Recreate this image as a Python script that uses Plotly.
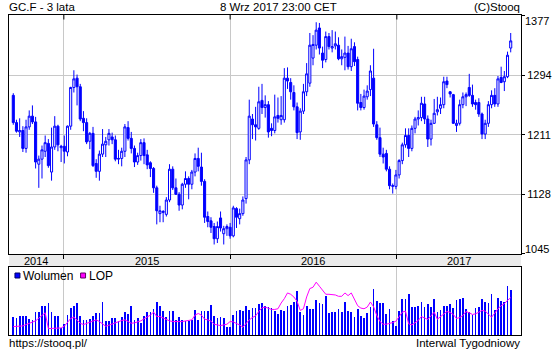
import plotly.graph_objects as go
import pandas as pd

# ---------------- data ----------------
weeks = pd.date_range("2014-09-12", periods=157, freq="7D")

open_ = [1266,1228,1215,1217,1192,1222,1237,1229,1170,1177,1188,1199,1159,1194,1223,1193,1195,1187,1223,1277,
         1290,1278,1234,1228,1202,1213,1171,1160,1184,1197,1204,1208,1204,1177,1178,1188,1221,1206,1192,1173,
         1182,1200,1183,1172,1164,1137,1101,1104,1100,1120,1163,1137,1128,1113,1142,1150,1142,1159,1178,1166,
         1146,1097,1091,1083,1066,1095,1073,1080,1082,1070,1108,1094,1101,1122,1176,1233,1225,1220,1259,1249,
         1253,1220,1217,1238,1232,1232,1290,1284,1270,1250,1215,1244,1271,1283,1318,1336,1360,1325,1316,1348,
         1332,1335,1336,1317,1319,1325,1306,1334,1316,1256,1249,1264,1274,1290,1225,1207,1184,1185,1163,1139,
         1139,1155,1175,1197,1210,1192,1220,1233,1235,1254,1233,1205,1227,1243,1248,1253,1286,1271,1267,1224,
         1227,1253,1264,1277,1266,1256,1256,1240,1212,1227,1253,1266,1254,1291,1285,1292,1332]
high = [1269,1232,1234,1223,1232,1245,1252,1236,1182,1196,1210,1205,1221,1237,1225,1197,1210,1224,1278,1301,
        1295,1282,1244,1234,1215,1222,1177,1189,1219,1208,1219,1214,1210,1190,1193,1226,1230,1215,1196,1186,
        1205,1206,1190,1174,1166,1140,1112,1106,1124,1170,1167,1150,1131,1144,1160,1153,1162,1185,1193,1186,
        1149,1104,1096,1088,1090,1104,1084,1086,1088,1112,1110,1108,1125,1180,1260,1240,1250,1278,1282,1266,
        1258,1227,1267,1263,1265,1304,1305,1290,1280,1256,1248,1282,1311,1353,1350,1368,1367,1334,1355,1353,
        1357,1355,1347,1330,1348,1335,1345,1340,1320,1268,1274,1280,1308,1331,1230,1221,1193,1190,1167,1143,
        1162,1177,1200,1220,1220,1224,1236,1245,1264,1264,1238,1232,1261,1264,1263,1292,1292,1272,1268,1232,
        1260,1270,1270,1296,1281,1260,1262,1242,1232,1258,1273,1276,1293,1306,1300,1327,1353]
low = [1225,1214,1208,1187,1186,1218,1226,1164,1137,1150,1180,1165,1147,1190,1188,1173,1171,1181,1218,1270,
       1252,1230,1216,1198,1191,1166,1151,1147,1180,1180,1196,1198,1174,1170,1167,1180,1203,1185,1166,1169,
       1175,1170,1163,1152,1130,1086,1089,1089,1097,1117,1134,1127,1105,1107,1137,1121,1135,1153,1160,1140,
       1088,1082,1074,1058,1060,1076,1058,1070,1066,1068,1081,1086,1098,1115,1170,1205,1203,1218,1240,1235,
       1207,1209,1213,1228,1225,1228,1275,1260,1245,1205,1204,1240,1265,1278,1308,1330,1323,1304,1312,1330,
       1326,1330,1315,1308,1301,1302,1300,1307,1245,1245,1246,1260,1265,1222,1204,1180,1171,1160,1135,1129,
       1135,1150,1170,1193,1180,1188,1213,1224,1230,1226,1194,1196,1226,1238,1240,1248,1276,1263,1226,1215,
       1224,1248,1251,1264,1250,1246,1236,1205,1205,1222,1248,1250,1250,1283,1272,1290,1326]
close = [1228,1216,1217,1192,1222,1237,1229,1173,1177,1190,1200,1168,1194,1223,1197,1195,1188,1223,1277,1289,
         1278,1233,1228,1201,1213,1168,1160,1184,1198,1202,1213,1204,1177,1178,1188,1222,1206,1192,1173,1182,
         1200,1182,1169,1164,1137,1105,1105,1103,1120,1163,1137,1128,1113,1142,1150,1142,1159,1178,1167,1146,
         1096,1090,1082,1066,1083,1081,1080,1083,1070,1109,1096,1101,1120,1176,1237,1225,1222,1257,1249,1253,
         1215,1217,1236,1234,1238,1290,1286,1271,1250,1214,1244,1271,1296,1336,1337,1357,1332,1315,1348,1334,
         1334,1338,1317,1320,1325,1306,1331,1313,1255,1249,1265,1272,1300,1226,1207,1184,1180,1163,1140,1140,
         1155,1175,1197,1210,1192,1220,1233,1235,1255,1233,1205,1227,1241,1246,1253,1285,1281,1268,1227,1227,
         1253,1264,1267,1266,1254,1253,1240,1212,1227,1253,1266,1254,1289,1284,1292,1322,1342]

volume = [275,260,285,285,285,245,225,340,340,435,435,475,350,285,290,105,170,305,410,430,
          485,290,225,225,235,290,325,335,500,215,215,255,255,215,270,350,315,435,225,250,
          190,280,340,340,395,490,440,365,270,365,365,230,270,230,210,215,230,375,230,360,
          360,365,445,285,250,265,250,130,130,305,365,380,355,440,370,400,405,460,485,435,
          425,410,365,315,
          380,360,435,450,490,665,340,305,440,390,390,530,485,465,590,325,340,340,395,350,
          490,355,340,265,390,290,255,325,425,690,515,475,475,310,385,215,140,365,545,545,
          615,425,415,435,500,425,465,425,535,340,375,440,440,460,405,525,535,555,390,350,
          305,405,415,545,500,475,615,375,560,515,500,740,680]

lop = [300,300,300,304,312,320,326,334,350,366,382,288,288,288,290,292,302,326,348,356,
       336,320,312,318,324,330,340,330,314,302,308,316,322,330,336,340,328,320,322,326,
       334,346,356,368,386,360,360,350,342,334,330,332,330,330,332,334,340,368,378,368,
       344,340,332,314,308,306,310,314,330,328,318,310,296,318,340,354,364,390,412,416,
       410,402,402,406,
       440,466,500,492,476,450,396,406,476,526,534,564,540,516,492,492,492,488,480,480,
       500,484,500,462,424,410,406,416,446,418,366,330,314,314,318,324,332,356,386,392,
       316,310,322,336,360,350,342,364,386,344,358,376,390,384,372,348,354,366,390,382,
       372,376,386,396,392,376,356,380,406,424,436,456,472]

price_ticks = [1045, 1128, 1211, 1294, 1377]
years = ["2014", "2015", "2016", "2017"]
year_starts = ["2015-01-01", "2016-01-01", "2017-01-01"]
year_mids = ["2014-11-01", "2015-07-02", "2016-07-02", "2017-05-17"]

# ---------------- layout geometry ----------------
W, H = 560, 350
L, R, T, B = 8, 523, 15, 335
PH = B - T
PW = R - L

def py(ypx):
    return (B - ypx) / PH

def px(xpx):
    return (xpx - L) / PW

x_range = ["2014-09-02 14:00", "2017-09-30 14:00"]
BLUE = "#0000ff"
MAG = "#ff00ff"
GRID = "#c8c8c8"
FONT = "Liberation Sans, Arial, sans-serif"

fig = go.Figure()
fig.add_trace(go.Candlestick(
    x=weeks, open=open_, high=high, low=low, close=close,
    increasing=dict(line=dict(color=BLUE, width=1), fillcolor="#ffffff"),
    decreasing=dict(line=dict(color=BLUE, width=1), fillcolor=BLUE),
    whiskerwidth=0, xaxis="x", yaxis="y", showlegend=False, hoverinfo="skip"))
fig.add_trace(go.Bar(
    x=weeks, y=volume, width=1.6 * 86400000,
    marker=dict(color=BLUE, line=dict(width=0)),
    xaxis="x2", yaxis="y2", showlegend=False, hoverinfo="skip"))
fig.add_trace(go.Scatter(
    x=weeks, y=lop, mode="lines", line=dict(color=MAG, width=1),
    xaxis="x2", yaxis="y3", showlegend=False, hoverinfo="skip"))

axis_common = dict(type="date", range=x_range, showticklabels=False,
                   showgrid=True, gridcolor=GRID, gridwidth=1,
                   tick0="2015-01-01", dtick="M12", zeroline=False,
                   showline=True, linecolor="#000000", linewidth=1, mirror=True)

fig.update_layout(
    width=W, height=H,
    margin=dict(l=L, r=W - R, t=T, b=H - B, pad=0),
    paper_bgcolor="#ffffff", plot_bgcolor="#ffffff",
    font=dict(family=FONT, size=11, color="#000000"),
    showlegend=False,
    boxgap=0.35, boxgroupgap=0,
    bargap=0,
    xaxis=dict(axis_common, domain=[0, 1], anchor="y", ticks="outside",
               ticklen=4, tickcolor="#000000", tickwidth=1,
               rangeslider=dict(visible=False)),
    yaxis=dict(domain=[py(254), 1], range=[1044.7, 1378.1], side="right",
               anchor="x", tickvals=price_ticks,
               ticktext=["", "1128", "1211", "1294", ""],
               ticks="outside", ticklen=3, tickcolor="#000000",
               showgrid=True, gridcolor=GRID, zeroline=False,
               showline=True, linecolor="#000000", mirror=True,
               tickfont=dict(size=11)),
    xaxis2=dict(axis_common, domain=[0, 1], anchor="y2", ticks=""),
    yaxis2=dict(domain=[0, py(266.7)], range=[0, 1015], anchor="x2",
                showticklabels=False, showgrid=False, zeroline=False,
                showline=True, linecolor="#000000", mirror=True, ticks=""),
    yaxis3=dict(overlaying="y2", range=[250, 656], anchor="x2",
                visible=False, showgrid=False, zeroline=False),
)

shapes = []
# year band between the panels
shapes.append(dict(type="rect", xref="paper", yref="paper", x0=0, x1=1,
                   y0=py(266.7), y1=py(254), fillcolor="#ebebeb",
                   line=dict(width=0), layer="below"))
# small ticks hanging from the top border at year boundaries
for d in year_starts:
    shapes.append(dict(type="line", xref="x", yref="paper", x0=d, x1=d,
                       y0=1, y1=py(19.5), line=dict(color="#000000", width=1)))
# legend squares
shapes.append(dict(type="rect", xref="paper", yref="paper", x0=px(14), x1=px(19),
                   y0=py(278), y1=py(273), fillcolor=BLUE,
                   line=dict(color="#000060", width=1)))
shapes.append(dict(type="rect", xref="paper", yref="paper", x0=px(80), x1=px(85),
                   y0=py(278), y1=py(273), fillcolor=MAG,
                   line=dict(color="#600060", width=1)))
fig.update_layout(shapes=shapes)

ann = []
def text(x, y, s, xanchor="left", xref="paper", size=11):
    ann.append(dict(x=x, y=y, xref=xref, yref="paper", text=s, showarrow=False,
                    xanchor=xanchor, yanchor="middle",
                    font=dict(family=FONT, size=size, color="#000000"),
                    borderpad=0))

text(px(7), py(7), "GC.F - 3 lata", size=11.5)
text(px(279), py(7), "8 Wrz 2017 23:00 CET", xanchor="center", size=11.5)
text(1, py(7), "(C)Stooq", xanchor="right", size=11.5)
text(px(7), py(343), "https://stooq.pl/", size=11.5)
text(1, py(343), "Interwal Tygodniowy", xanchor="right", size=11.5)
for yv, m in zip(years, year_mids):
    text(m, py(260.5), yv, xanchor="center", xref="x")
text(px(21), py(275.5), "Wolumen", size=12)
text(px(87), py(275.5), "LOP", size=12)
text(px(526), py(21), str(price_ticks[-1]))
text(px(526), py(249), str(price_ticks[0]))
fig.update_layout(annotations=ann)

fig.write_html("out.html")
